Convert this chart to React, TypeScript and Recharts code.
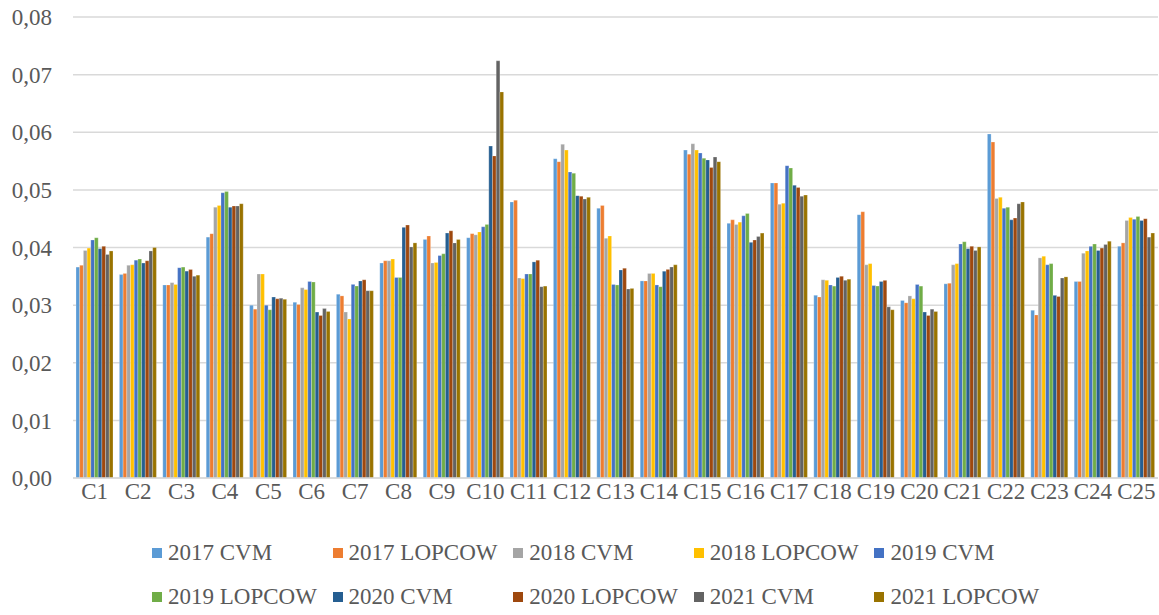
import React from "react";
import { BarChart, Bar, XAxis, YAxis, CartesianGrid } from "recharts";

// Criteria
const categories = [
  "C1", "C2", "C3", "C4", "C5", "C6", "C7", "C8", "C9", "C10", "C11", "C12", "C13",
  "C14", "C15", "C16", "C17", "C18", "C19", "C20", "C21", "C22", "C23", "C24", "C25",
];

// Weights per year and method
const cvm2017 = [0.0366, 0.0353, 0.0335, 0.0418, 0.0300, 0.0305, 0.0319, 0.0373, 0.0414, 0.0417, 0.0479, 0.0554, 0.0468, 0.0342, 0.0569, 0.0442, 0.0512, 0.0317, 0.0457, 0.0308, 0.0337, 0.0597, 0.0291, 0.0341, 0.0402];
const lopcow2017 = [0.0369, 0.0355, 0.0335, 0.0424, 0.0293, 0.0301, 0.0316, 0.0377, 0.0420, 0.0424, 0.0482, 0.0549, 0.0473, 0.0342, 0.0562, 0.0448, 0.0512, 0.0314, 0.0462, 0.0304, 0.0338, 0.0583, 0.0283, 0.0341, 0.0408];
const cvm2018 = [0.0395, 0.0369, 0.0339, 0.0470, 0.0354, 0.0330, 0.0288, 0.0377, 0.0373, 0.0422, 0.0347, 0.0579, 0.0416, 0.0355, 0.0580, 0.0440, 0.0475, 0.0344, 0.0370, 0.0316, 0.0370, 0.0485, 0.0382, 0.0390, 0.0447];
const lopcow2018 = [0.0399, 0.0370, 0.0336, 0.0473, 0.0354, 0.0327, 0.0276, 0.0380, 0.0374, 0.0427, 0.0346, 0.0569, 0.0420, 0.0355, 0.0569, 0.0444, 0.0477, 0.0343, 0.0372, 0.0311, 0.0372, 0.0487, 0.0385, 0.0394, 0.0452];
const cvm2019 = [0.0413, 0.0378, 0.0365, 0.0495, 0.0300, 0.0341, 0.0336, 0.0348, 0.0386, 0.0436, 0.0354, 0.0531, 0.0336, 0.0335, 0.0564, 0.0455, 0.0542, 0.0335, 0.0334, 0.0336, 0.0406, 0.0468, 0.0370, 0.0402, 0.0449];
const lopcow2019 = [0.0417, 0.0380, 0.0366, 0.0497, 0.0292, 0.0340, 0.0333, 0.0348, 0.0389, 0.0440, 0.0354, 0.0529, 0.0335, 0.0332, 0.0555, 0.0459, 0.0538, 0.0333, 0.0333, 0.0333, 0.0410, 0.0470, 0.0372, 0.0406, 0.0454];
const cvm2020 = [0.0398, 0.0373, 0.0359, 0.0470, 0.0314, 0.0288, 0.0342, 0.0435, 0.0425, 0.0576, 0.0375, 0.0490, 0.0361, 0.0359, 0.0552, 0.0409, 0.0508, 0.0348, 0.0341, 0.0288, 0.0398, 0.0448, 0.0317, 0.0395, 0.0447];
const lopcow2020 = [0.0402, 0.0377, 0.0362, 0.0472, 0.0311, 0.0282, 0.0344, 0.0439, 0.0429, 0.0559, 0.0378, 0.0489, 0.0364, 0.0362, 0.0539, 0.0413, 0.0504, 0.0350, 0.0343, 0.0282, 0.0402, 0.0451, 0.0315, 0.0399, 0.0450];
const cvm2021 = [0.0388, 0.0394, 0.0350, 0.0472, 0.0312, 0.0294, 0.0325, 0.0401, 0.0408, 0.0724, 0.0332, 0.0484, 0.0328, 0.0366, 0.0557, 0.0419, 0.0489, 0.0343, 0.0297, 0.0293, 0.0395, 0.0476, 0.0347, 0.0405, 0.0418];
const lopcow2021 = [0.0394, 0.0400, 0.0352, 0.0476, 0.0310, 0.0289, 0.0325, 0.0408, 0.0414, 0.0670, 0.0333, 0.0487, 0.0329, 0.0370, 0.0549, 0.0425, 0.0491, 0.0345, 0.0292, 0.0289, 0.0401, 0.0479, 0.0349, 0.0411, 0.0425];

const yTicks = [0, 0.01, 0.02, 0.03, 0.04, 0.05, 0.06, 0.07, 0.08];

const series = [
  { key: "s1", name: "2017 CVM", color: "#5B9BD5", values: cvm2017 },
  { key: "s2", name: "2017 LOPCOW", color: "#ED7D31", values: lopcow2017 },
  { key: "s3", name: "2018 CVM", color: "#A5A5A5", values: cvm2018 },
  { key: "s4", name: "2018 LOPCOW", color: "#FFC000", values: lopcow2018 },
  { key: "s5", name: "2019 CVM", color: "#4472C4", values: cvm2019 },
  { key: "s6", name: "2019 LOPCOW", color: "#70AD47", values: lopcow2019 },
  { key: "s7", name: "2020 CVM", color: "#255E91", values: cvm2020 },
  { key: "s8", name: "2020 LOPCOW", color: "#9E480E", values: lopcow2020 },
  { key: "s9", name: "2021 CVM", color: "#636363", values: cvm2021 },
  { key: "s10", name: "2021 LOPCOW", color: "#997300", values: lopcow2021 },
];

const data = categories.map((category, i) => {
  const row: Record<string, string | number> = { category };
  series.forEach((s) => {
    row[s.key] = s.values[i];
  });
  return row;
});

const FONT = "'Liberation Serif', 'Times New Roman', serif";
const TEXT = "#595959";
const GRID = "#D9D9D9";

const fmt = (v: number) => v.toFixed(2).replace(".", ",");

function LegendGrid() {
  return (
    <>
      {series.map((s, i) => {
        const col = i % 5;
        const row = Math.floor(i / 5);
        return (
          <div
            key={s.key}
            style={{
              position: "absolute",
              left: 152 + col * 180.6,
              top: 540 + row * 44,
              height: 26,
              display: "flex",
              alignItems: "center",
              fontFamily: FONT,
              fontSize: 23,
              color: TEXT,
              whiteSpace: "nowrap",
            }}
          >
            <span
              style={{
                display: "inline-block",
                width: 10,
                height: 10,
                background: s.color,
                marginRight: 6,
              }}
            />
            {s.name}
          </div>
        );
      })}
    </>
  );
}

export default function App() {
  return (
    <div style={{ position: "absolute", left: 0, top: 0, width: 1159, height: 615, background: "#fff" }}>
      <BarChart
        width={1159}
        height={615}
        data={data}
        margin={{ top: 17, right: 1, left: 0, bottom: 107 }}
        barGap={0}
      >
        <CartesianGrid vertical={false} stroke={GRID} strokeWidth={1.5} />
        <XAxis
          dataKey="category"
          interval={0}
          height={30}
          tickLine={false}
          tickSize={0}
          tickMargin={5}
          axisLine={{ stroke: GRID, strokeWidth: 1.5 }}
          tick={{ fontFamily: FONT, fontSize: 23, fill: TEXT }}
        />
        <YAxis
          width={73}
          domain={[0, 0.08]}
          ticks={yTicks}
          tickFormatter={fmt}
          axisLine={false}
          tickLine={false}
          tickSize={0}
          tickMargin={21}
          tick={{ fontFamily: FONT, fontSize: 23, fill: TEXT }}
        />
        {series.map((s) => (
          <Bar
            key={s.key}
            dataKey={s.key}
            name={s.name}
            fill={s.color}
            barSize={3.7}
            stroke="#ffffff"
            strokeWidth={0.4}
            strokeOpacity={0.6}
            isAnimationActive={false}
          />
        ))}
      </BarChart>
      <LegendGrid />
    </div>
  );
}
